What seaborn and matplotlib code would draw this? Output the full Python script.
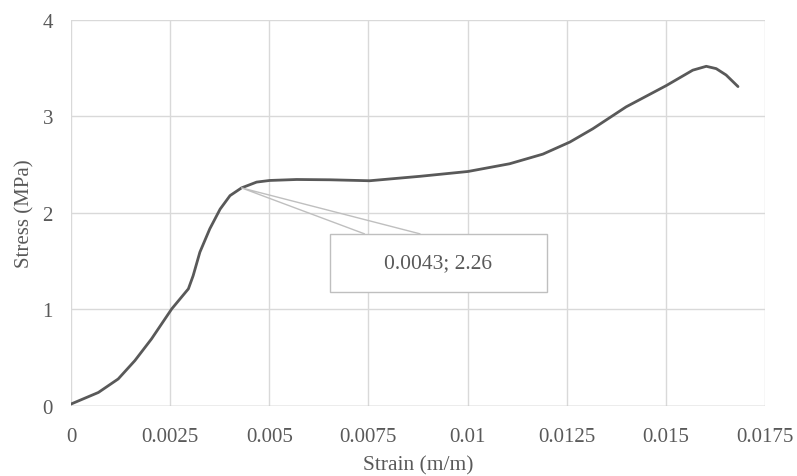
import matplotlib

matplotlib.use("Agg")
import matplotlib.pyplot as plt
import pandas as pd
import seaborn as sns
from matplotlib.patches import Rectangle

strain = [
    0.0, 0.00069, 0.00119, 0.00161, 0.00203, 0.00254, 0.00296, 0.00308,
    0.00325, 0.0035, 0.00376, 0.00401, 0.0043, 0.00468, 0.00501, 0.00569,
    0.00653, 0.00753, 0.0088, 0.01001, 0.01106, 0.0119, 0.01258, 0.01316,
    0.014, 0.01501, 0.01568, 0.01602, 0.01627, 0.01652, 0.01682,
]
stress = [
    0.02, 0.14, 0.28, 0.47, 0.695, 1.006, 1.214, 1.35,
    1.594, 1.836, 2.04, 2.18, 2.26, 2.32, 2.337, 2.347,
    2.344, 2.334, 2.38, 2.43, 2.51, 2.61, 2.735, 2.873,
    3.10, 3.32, 3.48, 3.52, 3.496, 3.43, 3.31,
]
x_ticks = [0, 0.0025, 0.005, 0.0075, 0.01, 0.0125, 0.015, 0.0175]
x_tick_labels = ["0", "0.0025", "0.005", "0.0075", "0.01", "0.0125", "0.015", "0.0175"]
y_ticks = [0, 1, 2, 3, 4]
label_point = (0.0043, 2.26)
label_text = "0.0043; 2.26"

sns.set_theme(style="white")
plt.rcParams["font.family"] = ["Liberation Serif", "DejaVu Serif"]

TEXT = "#595959"
GRID = "#d9d9d9"

df = pd.DataFrame({"strain": strain, "stress": stress})

fig = plt.figure(figsize=(7.97, 4.77), dpi=100)
ax = fig.add_axes([0.0891, 0.1468, 0.8707, 0.8092])

sns.lineplot(data=df, x="strain", y="stress", color="#595959", linewidth=2.0, ax=ax, zorder=3,
             solid_joinstyle="round", solid_capstyle="round")

ax.set_xlim(0, 0.0175)
ax.set_ylim(0, 4)
ax.set_xticks(x_ticks)
ax.set_xticklabels(x_tick_labels)
ax.set_yticks(y_ticks)
ax.grid(True, color=GRID, linewidth=1.0)
ax.set_axisbelow(True)
for s in ax.spines.values():
    s.set_visible(False)
ax.axhline(0, color="#bfbfbf", linewidth=1.0, zorder=2)
ax.tick_params(length=0, labelsize=15, labelcolor=TEXT)
ax.tick_params(axis="x", pad=15)
ax.tick_params(axis="y", pad=13)

ax.set_xlabel("Strain (m/m)", fontsize=15.5, color=TEXT, labelpad=7)
ax.set_ylabel("Stress (MPa)", fontsize=15, color=TEXT, labelpad=6)

# callout box with wedge pointing at the labelled point
box_x0, box_x1, box_y0, box_y1 = 0.00653, 0.0120, 1.18, 1.784
wedge_a, wedge_b = 0.0074, 0.0088
callout = "#bfbfbf"
ax.add_patch(Rectangle((box_x0, box_y0), box_x1 - box_x0, box_y1 - box_y0,
                       facecolor="white", edgecolor=callout, linewidth=1.0, zorder=4))
ax.plot([wedge_a, label_point[0], wedge_b], [box_y1, label_point[1], box_y1],
        color=callout, linewidth=1.0, zorder=4)
ax.text((box_x0 + box_x1) / 2, (box_y0 + box_y1) / 2, label_text, ha="center", va="center",
        fontsize=15.5, color=TEXT, zorder=5)

fig.savefig("out.png", dpi=100)
